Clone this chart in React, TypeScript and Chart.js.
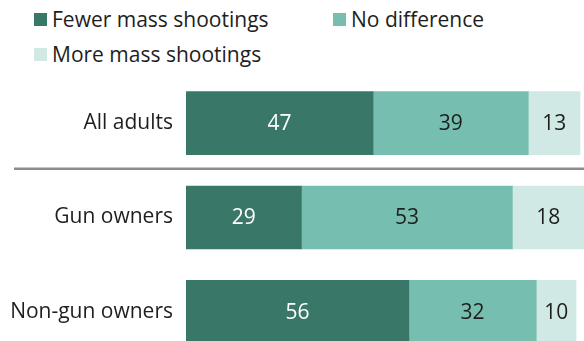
import React, { useEffect, useRef } from "react";
import { Chart, registerables } from "chart.js";

Chart.register(...registerables);

const categories = ["All adults", "Gun owners", "Non-gun owners"];
const seriesNames = ["Fewer mass shootings", "No difference", "More mass shootings"];
const fewer = [47, 29, 56];
const noDifference = [39, 53, 32];
const more = [13, 18, 10];

const COLORS = ["#397768", "#76bfb0", "#d0e9e4"];
const LABEL_COLORS = ["#ffffff", "#1e1e1e", "#1e1e1e"];
const FONT = "'Open Sans', 'Noto Sans', sans-serif";
const FONT_SIZE = 21;

const valueLabels = {
  id: "valueLabels",
  afterDatasetsDraw(chart: any) {
    const ctx = chart.ctx;
    ctx.save();
    ctx.font = `${FONT_SIZE}px ${FONT}`;
    ctx.textAlign = "center";
    ctx.textBaseline = "middle";
    chart.data.datasets.forEach((ds: any, di: number) => {
      const meta = chart.getDatasetMeta(di);
      meta.data.forEach((bar: any, i: number) => {
        const v = ds.data[i];
        const cx = (bar.x + bar.base) / 2;
        ctx.fillStyle = LABEL_COLORS[di];
        ctx.fillText(String(v), cx, bar.y + 1);
      });
    });
    ctx.restore();
  },
};

const separator = {
  id: "separator",
  afterDraw(chart: any) {
    const y = chart.scales.y;
    const ctx = chart.ctx;
    const py = (y.getPixelForValue(0) + y.getPixelForValue(1)) / 2 - 1.5;
    ctx.save();
    ctx.strokeStyle = "#8c8c8c";
    ctx.lineWidth = 2.5;
    ctx.beginPath();
    ctx.moveTo(14, py);
    ctx.lineTo(chart.width, py);
    ctx.stroke();
    ctx.restore();
  },
};

export default function App() {
  const ref = useRef<HTMLCanvasElement | null>(null);
  useEffect(() => {
    if (!ref.current) return;
    const chart = new Chart(ref.current, {
      type: "bar",
      data: {
        labels: categories,
        datasets: [fewer, noDifference, more].map((d, i) => ({
          label: seriesNames[i],
          data: d,
          backgroundColor: COLORS[i],
          borderWidth: 0,
          barThickness: 63,
        })),
      },
      options: {
        indexAxis: "y",
        animation: false,
        responsive: true,
        maintainAspectRatio: false,
        layout: { padding: { top: 76, bottom: 0, left: 0, right: 0 } },
        plugins: { legend: { display: false }, tooltip: { enabled: false } },
        scales: {
          x: { stacked: true, min: 0, max: 100, display: false },
          y: {
            stacked: true,
            grid: { display: false, drawTicks: false },
            border: { display: false },
            ticks: { color: "#1e1e1e", font: { size: FONT_SIZE, family: FONT }, padding: 13 },
            afterFit: (s: any) => {
              s.width = 186;
              s.paddingTop = 0;
              s.paddingBottom = 0;
            },
          },
        },
      },
      plugins: [valueLabels, separator],
    });
    return () => chart.destroy();
  }, []);

  const legendItem = (i: number, left: number, top: number) => (
    <div
      key={i}
      style={{ position: "absolute", left, top, height: 14, display: "flex", alignItems: "center" }}
    >
      <span style={{ width: 13, height: 13, background: COLORS[i], display: "inline-block", marginRight: 5, flex: "none" }} />
      <span style={{ fontFamily: FONT, fontSize: FONT_SIZE, color: "#1e1e1e", whiteSpace: "nowrap", lineHeight: "14px" }}>
        {seriesNames[i]}
      </span>
    </div>
  );

  return (
    <div style={{ position: "absolute", left: 0, top: 0, width: 584, height: 341, overflow: "hidden", background: "#fff" }}>
      {legendItem(0, 34, 12)}
      {legendItem(1, 333, 12)}
      {legendItem(2, 34, 47)}
      <div style={{ position: "absolute", left: 0, top: 0, width: 584, height: 359 }}>
        <canvas ref={ref} />
      </div>
    </div>
  );
}
